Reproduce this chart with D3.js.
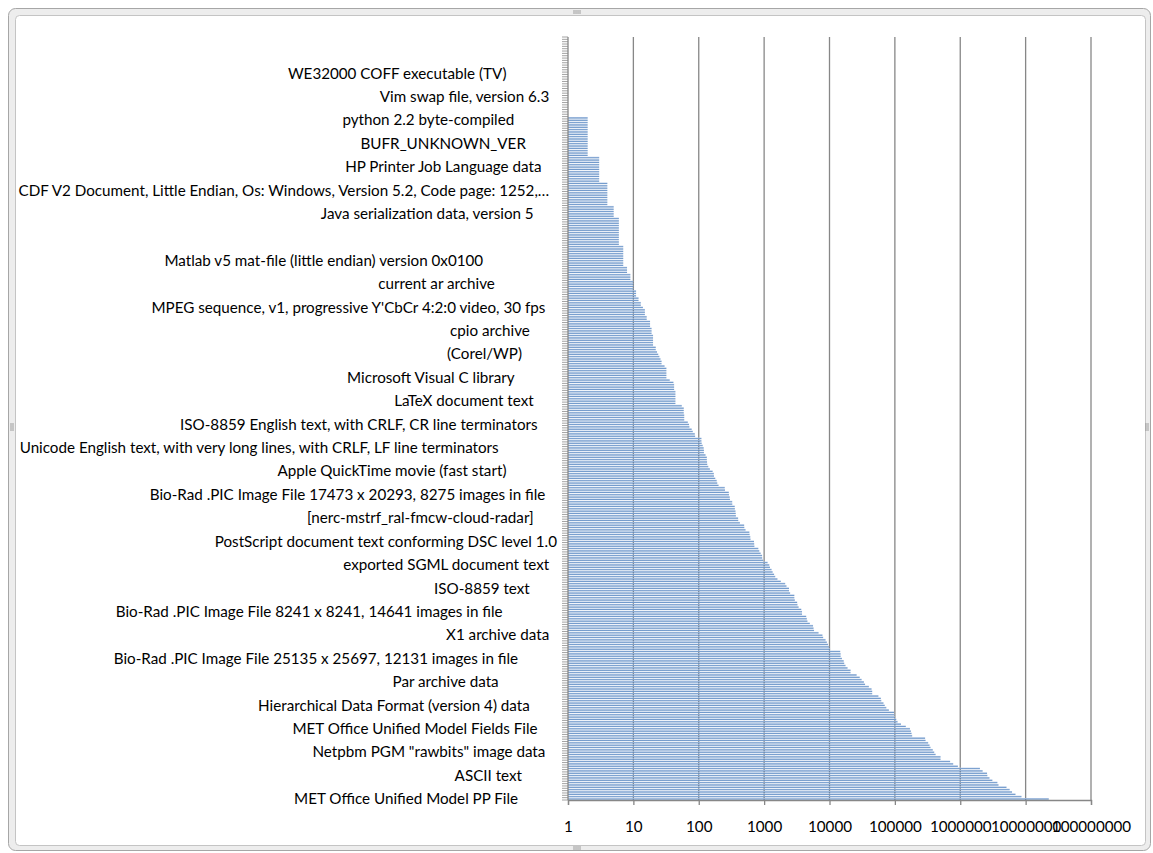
<!DOCTYPE html>
<html>
<head>
<meta charset="utf-8">
<script src="https://cdn.jsdelivr.net/npm/d3@7"></script>
<style>
  body { margin: 0; background: #fff; }
  svg text { font-family: Lato, "Open Sans", sans-serif; }
</style>
</head>
<body>
<div id="chart"></div>
<script>
// counts per file type, first category is drawn at the bottom (like excel)
var values = [
  22600000, 8650000, 7000000, 6200000, 5700000, 5100000, 3850000, 3700000, 3100000, 2800000,
  2600000, 2570000, 2200000, 2000000, 920000, 780000, 700000, 500000, 500000, 420000,
  400000, 380000, 351000, 339000, 323000, 295000, 290000, 184000, 180000, 176000,
  170000, 147000, 124000, 110000, 105000, 100000, 98000, 97000, 81000, 74000,
  70000, 67000, 62000, 61000, 56000, 45000, 45000, 44000, 40000, 35000,
  33600, 31000, 29000, 26000, 21000, 21000, 18900, 17600, 16800, 16500,
  15500, 14800, 14800, 14600, 10200, 9900, 9500, 9100, 8700, 8000,
  7800, 6800, 5800, 5700, 5600, 5000, 4600, 4500, 4400, 3800,
  3800, 3700, 3370, 3240, 3200, 2950, 2900, 2900, 2500, 2400,
  2400, 2200, 2100, 1800, 1600, 1480, 1420, 1350, 1300, 1230,
  1200, 1130, 970, 935, 930, 885, 843, 815, 710, 705,
  700, 620, 615, 600, 595, 520, 498, 495, 426, 402,
  400, 370, 368, 365, 357, 355, 326, 325, 300, 298,
  290, 288, 252, 250, 201, 192, 188, 179, 171, 170,
  163, 148, 140, 135, 134, 133, 133, 127, 120, 120,
  119, 115, 111, 110, 110, 88, 87, 81, 78, 72,
  71, 68, 60, 60, 60, 59, 59, 59, 55, 44,
  44, 44, 44, 44, 44, 42, 42, 42, 41, 36,
  32, 32, 32, 32, 32, 30, 27, 27, 26, 25,
  24, 23, 22, 22, 20, 20, 20, 20, 20, 19,
  19, 19, 18, 18, 18, 16, 16, 15, 15, 15,
  14, 13, 13, 12, 12, 11, 11, 11, 10, 10,
  10, 10, 9, 9, 9, 8, 8, 8, 7, 7,
  7, 7, 7, 7, 7, 7, 7, 6, 6, 6,
  6, 6, 6, 6, 6, 6, 6, 6, 6, 5,
  5, 5, 5, 5, 4, 4, 4, 4, 4, 4,
  4, 4, 4, 4, 3, 3, 3, 3, 3, 3,
  3, 3, 3, 3, 3, 2, 2, 2, 2, 2,
  2, 2, 2, 2, 2, 2, 2, 2, 2, 2,
  2, 2, 1, 1, 1, 1, 1, 1, 1, 1,
  1, 1, 1, 1, 1, 1, 1, 1, 1, 1,
  1, 1, 1, 1, 1, 1, 1, 1, 1, 1,
  1, 1, 1, 1, 1, 1
];

// only every 10th category name is shown on the axis
var labelEvery = 10;
var shownLabels = [
  "MET Office Unified Model PP File",
  "ASCII text",
  "Netpbm PGM \"rawbits\" image data",
  "MET Office Unified Model Fields File",
  "Hierarchical Data Format (version 4) data",
  "Par archive data",
  "Bio-Rad .PIC Image File 25135 x 25697, 12131 images in file",
  "X1 archive data",
  "Bio-Rad .PIC Image File 8241 x 8241, 14641 images in file",
  "ISO-8859 text",
  "exported SGML document text",
  "PostScript document text conforming DSC level 1.0",
  "[nerc-mstrf_ral-fmcw-cloud-radar]",
  "Bio-Rad .PIC Image File 17473 x 20293, 8275 images in file",
  "Apple QuickTime movie (fast start)",
  "Unicode English text, with very long lines, with CRLF, LF line terminators",
  "ISO-8859 English text, with CRLF, CR line terminators",
  "LaTeX document text",
  "Microsoft Visual C library",
  "(Corel/WP)",
  "cpio archive",
  "MPEG sequence, v1, progressive Y'CbCr 4:2:0 video, 30 fps",
  "current ar archive",
  "Matlab v5 mat-file (little endian) version 0x0100",
  "",
  "Java serialization data, version 5",
  "CDF V2 Document, Little Endian, Os: Windows, Version 5.2, Code page: 1252,\u2026",
  "HP Printer Job Language data",
  "BUFR_UNKNOWN_VER",
  "python 2.2 byte-compiled",
  "Vim swap file, version 6.3",
  "WE32000 COFF executable (TV)",
  ""
];
// the file(1) strings carry trailing blanks, excel keeps them
var trailingBlanks = [10, 9, 3, 5, 7, 15, 10, 2, 14, 7, 2, 0, 6, 3, 13, 15, 5, 6, 11, 9, 7, 3, 16, 19, 0, 6, 2, 4, 8, 11, 2, 13, 0];

var xTicks = [1, 10, 100, 1000, 10000, 100000, 1000000, 10000000, 100000000];

var W = 1153, H = 853;
var margin = { top: 37, right: 62, bottom: 53, left: 568 };
var fontSize = "15.2px";

var svg = d3.select("#chart").append("svg")
    .attr("width", W)
    .attr("height", H);

// excel selection frame round the chart
svg.append("rect")
    .attr("x", 8.5).attr("y", 8.5)
    .attr("width", 1142).attr("height", 842)
    .attr("rx", 7)
    .style("fill", "#ededed")
    .style("stroke", "#a6a6a6");
svg.append("rect")
    .attr("x", 15.5).attr("y", 15.5)
    .attr("width", 1130).attr("height", 830)
    .attr("rx", 4)
    .style("fill", "#fff")
    .style("stroke", "#c4c4c4");

// little grip marks in the middle of each frame side
var grips = [[577, 12, "h"], [577, 848, "h"], [12, 427, "v"], [1147, 427, "v"]];
grips.forEach(function(g) {
    for (var k = -3; k <= 3; k += 2) {
        var isH = g[2] === "h";
        svg.append("line")
            .attr("x1", isH ? g[0] + k : g[0] - 2)
            .attr("x2", isH ? g[0] + k : g[0] + 2)
            .attr("y1", isH ? g[1] - 2 : g[1] + k)
            .attr("y2", isH ? g[1] + 2 : g[1] + k)
            .style("stroke", "#8a8a8a")
            .style("stroke-width", 0.8);
    }
});

var x = d3.scaleLog()
    .domain([1, 100000000])
    .range([margin.left, W - margin.right]);

var y = d3.scaleBand()
    .domain(d3.range(values.length))
    .range([H - margin.bottom, margin.top])
    .paddingInner(0.35)
    .paddingOuter(0.175);

var grad = svg.append("defs").append("linearGradient")
    .attr("id", "barfill")
    .attr("x1", 0).attr("y1", 0).attr("x2", 0).attr("y2", 1);
grad.append("stop").attr("offset", "0%").attr("stop-color", "#b8cce8");
grad.append("stop").attr("offset", "100%").attr("stop-color", "#4f81bd");

//vertical gridlines
svg.selectAll(".grid")
    .data(xTicks.slice(1))
    .enter().append("line")
    .attr("class", "grid")
    .attr("x1", d => x(d)).attr("x2", d => x(d))
    .attr("y1", margin.top).attr("y2", H - margin.bottom)
    .style("stroke", "#878787")
    .style("stroke-width", 1.3);

//bars
svg.selectAll(".bar")
    .data(values)
    .enter().append("rect")
    .attr("class", "bar")
    .attr("x", x(1))
    .attr("y", (d, i) => y(i))
    .attr("width", d => x(d) - x(1))
    .attr("height", y.bandwidth())
    .style("fill", "url(#barfill)");

// category axis, ticks sit between the categories
var step = y.step();
svg.selectAll(".ctick")
    .data(d3.range(values.length + 1))
    .enter().append("line")
    .attr("class", "ctick")
    .attr("x1", x(1) - 6).attr("x2", x(1))
    .attr("y1", i => H - margin.bottom - i * step)
    .attr("y2", i => H - margin.bottom - i * step)
    .style("stroke", "#8c8c8c")
    .style("stroke-width", 0.8);

svg.append("line")
    .attr("x1", x(1)).attr("x2", x(1))
    .attr("y1", margin.top).attr("y2", H - margin.bottom)
    .style("stroke", "#878787")
    .style("stroke-width", 1.3);

svg.selectAll(".clabel")
    .data(shownLabels)
    .enter().append("text")
    .attr("class", "clabel")
    .attr("x", x(1) - 11)
    .attr("y", (d, i) => y(i * labelEvery) + y.bandwidth() / 2)
    .attr("dy", "0.35em")
    .attr("text-anchor", "end")
    .style("white-space", "pre")
    .style("font-size", fontSize)
    .style("fill", "#000")
    .text((d, i) => d + " ".repeat(trailingBlanks[i]));

// value axis
var xAxis = d3.axisBottom(x)
    .tickValues(xTicks)
    .tickFormat(d3.format("d"))
    .tickSize(5)
    .tickPadding(16);

var gx = svg.append("g")
    .attr("transform", "translate(0," + (H - margin.bottom) + ")")
    .call(xAxis);
gx.select(".domain").style("stroke", "#878787").style("stroke-width", 1.3);
gx.selectAll(".tick line").style("stroke", "#878787").style("stroke-width", 1.3);
gx.selectAll(".tick text")
    .style("font-size", fontSize)
    .style("fill", "#000");
</script>
</body>
</html>
